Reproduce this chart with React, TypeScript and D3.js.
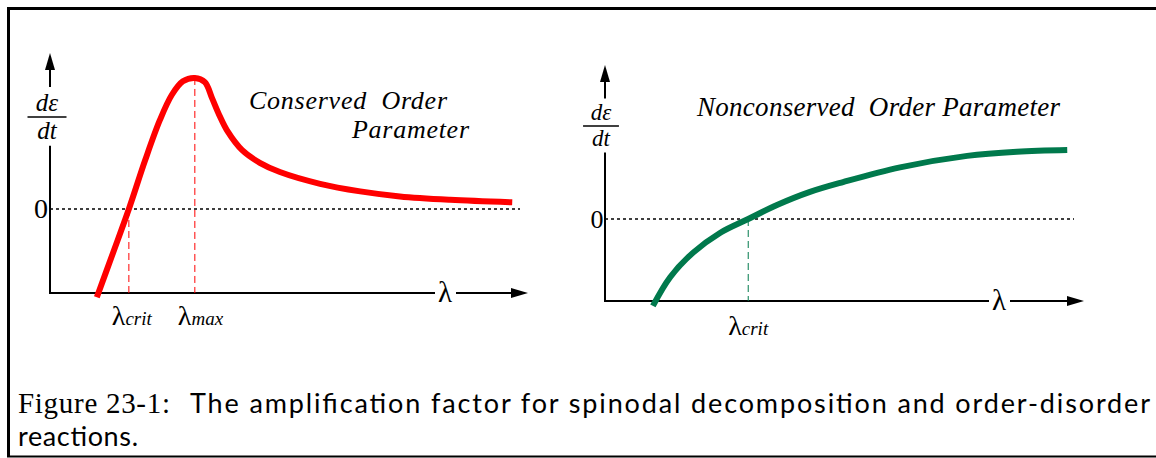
import React from "react";
import * as d3 from "d3";

// ---- Data ----
// Left panel: conserved order parameter (lambda, d eps/dt)
const conservedLambda = [9.8, 13.2, 16.5, 19.9, 23.0, 25.5, 27.8, 30.3, 32.4, 33.9, 35.4, 37.2, 40.2, 43.9, 48.1, 56.5, 64.9, 73.2, 83.7, 96.7];
const conservedRate = [-1.05, -0.52, 0, 0.58, 1.06, 1.36, 1.52, 1.56, 1.51, 1.32, 1.12, 0.92, 0.7, 0.55, 0.44, 0.3, 0.21, 0.15, 0.11, 0.08];
// Right panel: nonconserved order parameter
const nonconservedLambda = [10.0, 13.6, 18.4, 24.0, 29.9, 35.9, 42.8, 49.7, 61.6, 75.6, 86.0, 96.5];
const nonconservedRate = [-1.06, -0.71, -0.41, -0.17, 0, 0.17, 0.33, 0.45, 0.63, 0.77, 0.82, 0.84];

const leftMarkers = [
  { lambda: 16.5, rate: 0, sub: "crit" },
  { lambda: 30.3, rate: 1.56, sub: "max" },
];
const rightMarkers = [{ lambda: 29.9, rate: 0, sub: "crit" }];

const leftTitle = ["Conserved  Order", "Parameter"];
const rightTitle = ["Nonconserved  Order Parameter"];
const captionHead = "Figure 23-1:";
const captionLine1 = "The amplification factor for spinodal decomposition and order-disorder";
const captionLine2 = "reactions.";

const SERIF = "'Liberation Serif', 'Times New Roman', Times, serif";
const SANS = "Lato, 'Open Sans', 'DejaVu Sans', sans-serif";

type Panel = {
  x0: number; x1: number; yZero: number; yBottom: number; yTop: number;
  color: string; lam: number[]; rate: number[];
  markers: { lambda: number; rate: number; sub: string }[];
  fracX: number; fracY: number; fracSize: number;
  zeroLineEnd: number; lambdaLabelX: number; labelBase: number; labelDx: number;
  zeroLabelX: number; zeroSize: number;
};

function PanelView({ p }: { p: Panel }) {
  const x = d3.scaleLinear().domain([0, 100]).range([p.x0, p.x1]);
  const y = d3.scaleLinear().domain([-1, 0]).range([p.yBottom, p.yZero]);
  const pts = p.lam.map((l, i) => [l, p.rate[i]] as [number, number]);
  const line = d3
    .line<[number, number]>()
    .x((d) => x(d[0]))
    .y((d) => y(d[1]))
    .curve(d3.curveCatmullRom.alpha(0.5));
  const fs = p.fracSize;
  const gapTop = p.fracY - fs * 1.2;
  const gapBot = p.fracY + fs * 1.15;
  const ah = 17, aw = 5;
  return (
    <g>
      {/* y axis */}
      <line x1={p.x0} x2={p.x0} y1={p.yTop + ah} y2={gapTop} stroke="#000" strokeWidth={2} />
      <line x1={p.x0} x2={p.x0} y1={gapBot} y2={p.yBottom + 1} stroke="#000" strokeWidth={2} />
      <path d={`M${p.x0},${p.yTop} L${p.x0 - aw},${p.yTop + ah} L${p.x0 + aw},${p.yTop + ah} Z`} fill="#000" />
      {/* x axis */}
      <line x1={p.x0 - 1} x2={p.lambdaLabelX - 10} y1={p.yBottom} y2={p.yBottom} stroke="#000" strokeWidth={2} />
      <line x1={p.lambdaLabelX + 11} x2={p.x1 - ah} y1={p.yBottom} y2={p.yBottom} stroke="#000" strokeWidth={2} />
      <path d={`M${p.x1},${p.yBottom} L${p.x1 - ah},${p.yBottom - aw} L${p.x1 - ah},${p.yBottom + aw} Z`} fill="#000" />
      <text x={p.lambdaLabelX} y={p.yBottom + 9} fontFamily={SERIF} fontSize={29} textAnchor="middle">λ</text>
      {/* fraction label */}
      <text x={p.fracX} y={p.fracY - 6} fontFamily={SERIF} fontStyle="italic" fontSize={fs} textAnchor="middle">dε</text>
      <text x={p.fracX} y={p.fracY + fs * 0.86} fontFamily={SERIF} fontStyle="italic" fontSize={fs} textAnchor="middle">dt</text>
      <line x1={p.fracX - fs * 0.78} x2={p.fracX + fs * 0.78} y1={p.fracY} y2={p.fracY} stroke="#000" strokeWidth={1.5} />
      {/* zero line */}
      <line x1={p.x0} x2={p.zeroLineEnd} y1={y(0)} y2={y(0)} stroke="#000" strokeWidth={1.5} strokeDasharray="3,3" />
      <text x={p.zeroLabelX} y={y(0) + 9} fontFamily={SERIF} fontSize={p.zeroSize} textAnchor="middle">0</text>
      {/* marker dashed verticals */}
      {p.markers.map((m, i) => (
        <g key={i}>
          <line x1={x(m.lambda)} x2={x(m.lambda)} y1={y(m.rate)} y2={p.yBottom} stroke={p.color} strokeWidth={1} strokeDasharray="7,4" />
          <text x={x(m.lambda) + p.labelDx} y={p.labelBase} fontFamily={SERIF} fontSize={28}>
            λ<tspan fontStyle="italic" fontSize={19}>{m.sub}</tspan>
          </text>
        </g>
      ))}
      {/* curve */}
      <path d={line(pts) || ""} fill="none" stroke={p.color} strokeWidth={6} strokeLinecap="butt" />
    </g>
  );
}

export default function App() {
  const left: Panel = {
    x0: 50, x1: 528, yZero: 209, yBottom: 293, yTop: 53,
    color: "#ff0000", lam: conservedLambda, rate: conservedRate, markers: leftMarkers,
    fracX: 47, fracY: 117, fracSize: 25, zeroLineEnd: 520, lambdaLabelX: 445,
    labelBase: 325, labelDx: -17, zeroLabelX: 41, zeroSize: 28,
  };
  const right: Panel = {
    x0: 605, x1: 1084, yZero: 219, yBottom: 301, yTop: 65,
    color: "#00794c", lam: nonconservedLambda, rate: nonconservedRate, markers: rightMarkers,
    fracX: 601, fracY: 126, fracSize: 23, zeroLineEnd: 1074, lambdaLabelX: 999,
    labelBase: 335, labelDx: -20, zeroLabelX: 597, zeroSize: 26,
  };
  return (
    <svg width={1156} height={458} style={{ position: "absolute", left: 0, top: 0, background: "#fff" }}>
      <rect x={0} y={0} width={1156} height={458} fill="#fff" />
      {/* frame */}
      <line x1={8.5} x2={1156} y1={8.5} y2={8.5} stroke="#000" strokeWidth={3} />
      <line x1={8.5} x2={8.5} y1={7} y2={457} stroke="#000" strokeWidth={3} />
      <line x1={7} x2={1156} y1={456.5} y2={456.5} stroke="#000" strokeWidth={2} />

      <PanelView p={left} />
      <PanelView p={right} />

      {/* titles */}
      <text x={249} y={109} fontFamily={SERIF} fontStyle="italic" fontSize={26} textLength={198} lengthAdjust="spacing" style={{ whiteSpace: "pre" }}>{leftTitle[0]}</text>
      <text x={352} y={138} fontFamily={SERIF} fontStyle="italic" fontSize={26} textLength={117} lengthAdjust="spacing">{leftTitle[1]}</text>
      <text x={697} y={116} fontFamily={SERIF} fontStyle="italic" fontSize={27} textLength={363} lengthAdjust="spacing" style={{ whiteSpace: "pre" }}>{rightTitle[0]}</text>

      {/* caption */}
      <text x={18} y={413} fontFamily={SERIF} fontSize={29} textLength={152} lengthAdjust="spacing">{captionHead}</text>
      <text x={190} y={413} fontFamily={SANS} fontSize={27} textLength={960} lengthAdjust="spacing">{captionLine1}</text>
      <text x={18} y={446} fontFamily={SANS} fontSize={27} textLength={120} lengthAdjust="spacing">{captionLine2}</text>
    </svg>
  );
}
